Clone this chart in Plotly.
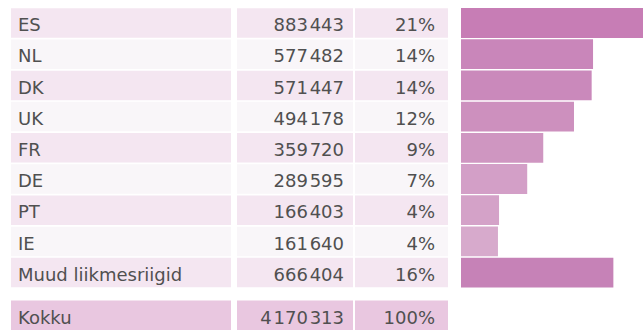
import plotly.graph_objects as go

# Tonnage by member state
countries = ["ES", "NL", "DK", "UK", "FR", "DE", "PT", "IE", "Muud liikmesriigid"]
values = [883443, 577482, 571447, 494178, 359720, 289595, 166403, 161640, 666404]
shares = [21, 14, 14, 12, 9, 7, 4, 4, 16]
total_label = "Kokku"
total_value = 4170313
total_share = 100

bar_colors = ["#c77db5", "#c986ba", "#ca89bb", "#cd90be", "#cf96c1",
              "#d39fc7", "#d4a2c8", "#d7aacc", "#c682b7"]

W, H = 643, 331
ROW_PX = 31.2
TOP_CENTER_PX = 23.0

n = len(countries)
row_y = list(range(n))
total_y = n + 0.37
all_y = row_y + [total_y]

row_fill = ["#f4e6f1" if i % 2 == 0 else "#f9f6f9" for i in range(n)] + ["#e9c7e0"]


def fmt(v):
    return f"{v:,}".replace(",", "\u200a")


labels = countries + [total_label]
nums = [fmt(v) for v in values] + [fmt(total_value)]
pcts = [f"{s}%" for s in shares] + [f"{total_share}%"]

# table columns in pixel units on the full-width x axis: (left, right)
cols = [(11, 231), (237, 353), (355, 448)]

fig = go.Figure()

for left, right in cols:
    fig.add_trace(go.Bar(
        orientation="h", y=all_y, x=[right - left] * len(all_y), base=[left] * len(all_y),
        width=0.945, marker=dict(color=row_fill, line=dict(width=0)),
        xaxis="x", yaxis="y", hoverinfo="skip", showlegend=False,
    ))

font = dict(family="DejaVu Sans", size=18, color="#505050")
# nudge text baseline slightly below the row centre
text_y = [y + 0.12 for y in all_y]

fig.add_trace(go.Scatter(
    x=[cols[0][0] + 7] * len(all_y), y=text_y, mode="text", text=labels,
    textposition="middle right", textfont=font, xaxis="x", yaxis="y",
    hoverinfo="skip", showlegend=False, cliponaxis=False,
))
fig.add_trace(go.Scatter(
    x=[cols[1][1] - 9] * len(all_y), y=text_y, mode="text", text=nums,
    textposition="middle left", textfont=font, xaxis="x", yaxis="y",
    hoverinfo="skip", showlegend=False, cliponaxis=False,
))
fig.add_trace(go.Scatter(
    x=[cols[2][1] - 13] * len(all_y), y=text_y, mode="text", text=pcts,
    textposition="middle left", textfont=font, xaxis="x", yaxis="y",
    hoverinfo="skip", showlegend=False, cliponaxis=False,
))

# horizontal bars on their own value axis
fig.add_trace(go.Bar(
    orientation="h", y=row_y, x=values, width=0.955,
    marker=dict(color=bar_colors, line=dict(width=0)),
    xaxis="x2", yaxis="y", hoverinfo="skip", showlegend=False,
))

y_top = -TOP_CENTER_PX / ROW_PX
y_bottom = (H - TOP_CENTER_PX) / ROW_PX

fig.update_layout(
    width=W, height=H,
    margin=dict(l=0, r=0, t=0, b=0),
    paper_bgcolor="white", plot_bgcolor="white",
    barmode="overlay",
    xaxis=dict(domain=[0, 1], range=[0, W], visible=False, fixedrange=True),
    xaxis2=dict(domain=[461 / W, 1], range=[0, 796000], visible=False,
                anchor="y", fixedrange=True),
    yaxis=dict(range=[y_bottom, y_top], visible=False, fixedrange=True),
)

fig.write_html("out.html", config={"displayModeBar": False})
